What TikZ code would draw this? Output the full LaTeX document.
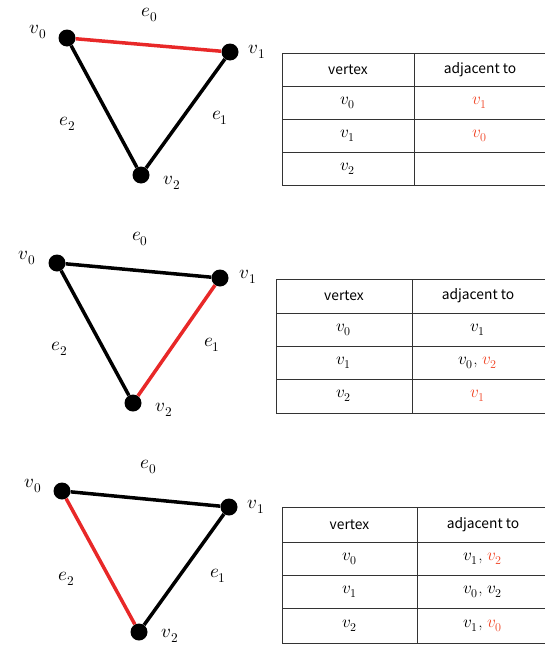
\documentclass[tikz,border=0pt]{standalone}
\usepackage{fontspec}
\usepackage{unicode-math}
\setmathfont{Latin Modern Math}
\setsansfont{Noto Sans CJK JP}
\usetikzlibrary{positioning}
\definecolor{edgered}{RGB}{232,40,40}
\definecolor{textred}{RGB}{240,75,45}

\begin{document}
\begin{tikzpicture}[
    x=1pt, y=-1pt,
    vert/.style={circle, fill=black, inner sep=0pt, minimum size=17pt},
    edge/.style={line width=3.5pt, draw=black},
    hot/.style={edge, draw=edgered},
    vlab/.style={font=\fontsize{19}{19}\selectfont},
    cell/.style={font=\fontsize{17}{17}\selectfont},
    head/.style={font=\sffamily\fontsize{13.8}{13.8}\selectfont},
    grid/.style={line width=1pt, draw=black!80}
]
\useasboundingbox (0,0) rectangle (545,645);

% first graph: e0 highlighted
\node[vert] (a0) at (67,38) {};
\node[vert] (a1) at (230,52) {};
\node[vert] (a2) at (141,175) {};
\draw[hot] (a0) -- (a1);
\draw[edge] (a1) -- (a2);
\draw[edge] (a2) -- (a0);
\node[vlab] (a0l) at (38,32) {$v_0$};
\node[vlab] (a1l) at (257,52) {$v_1$};
\node[vlab] (a2l) at (172,183) {$v_2$};
\node[vlab] (ae0) at (150,15) {$e_0$};
\node[vlab] (ae1) at (220,118) {$e_1$};
\node[vlab] (ae2) at (68,124) {$e_2$};

\foreach \y in {53,86,119,152,185} \draw[grid] (282,\y) -- (545,\y);
\foreach \x in {282,414} \draw[grid] (\x,53) -- (\x,185);
\node[head] (ah1) at (348,69.5) {vertex};
\node[head] (ah2) at (480,69.5) {adjacent to};
\node[cell] (ar0) at (348,102.5) {$v_0$};
\node[cell] (ar1) at (348,135.5) {$v_1$};
\node[cell] (ar2) at (348,168.5) {$v_2$};
\node[cell, text=textred] (aj0) at (480,102.5) {$v_1$};
\node[cell, text=textred] (aj1) at (480,135.5) {$v_0$};

% second graph: e1 highlighted
\node[vert] (b0) at (57,263) {};
\node[vert] (b1) at (220,278) {};
\node[vert] (b2) at (133,403) {};
\draw[edge] (b0) -- (b1);
\draw[hot] (b1) -- (b2);
\draw[edge] (b2) -- (b0);
\node[vlab] (b0l) at (27,258) {$v_0$};
\node[vlab] (b1l) at (248,277) {$v_1$};
\node[vlab] (b2l) at (164,410) {$v_2$};
\node[vlab] (be0) at (140,239) {$e_0$};
\node[vlab] (be1) at (212,345) {$e_1$};
\node[vlab] (be2) at (60,349) {$e_2$};

\foreach \y in {279,313,346,379,413} \draw[grid] (276,\y) -- (545,\y);
\foreach \x in {276,412} \draw[grid] (\x,279) -- (\x,413);
\node[head] (bh1) at (344,296) {vertex};
\node[head] (bh2) at (478,296) {adjacent to};
\node[cell] (br0) at (344,329.5) {$v_0$};
\node[cell] (br1) at (344,362.5) {$v_1$};
\node[cell] (br2) at (344,396) {$v_2$};
\node[cell] (bj0) at (478,329.5) {$v_1$};
\node[cell] (bj1) at (478,362.5) {$v_0$, \textcolor{textred}{$v_2$}};
\node[cell, text=textred] (bj2) at (478,396) {$v_1$};

% third graph: e2 highlighted
\node[vert] (c0) at (62,491) {};
\node[vert] (c1) at (229,507) {};
\node[vert] (c2) at (139,632) {};
\draw[edge] (c0) -- (c1);
\draw[edge] (c1) -- (c2);
\draw[hot] (c2) -- (c0);
\node[vlab] (c0l) at (33,486) {$v_0$};
\node[vlab] (c1l) at (256,507) {$v_1$};
\node[vlab] (c2l) at (170,636) {$v_2$};
\node[vlab] (ce0) at (149,467) {$e_0$};
\node[vlab] (ce1) at (218,576) {$e_1$};
\node[vlab] (ce2) at (67,579) {$e_2$};

\foreach \y in {507,542,575,608,643} \draw[grid] (282,\y) -- (545,\y);
\foreach \x in {282,417} \draw[grid] (\x,507) -- (\x,643);
\node[head] (ch1) at (349.5,524.5) {vertex};
\node[head] (ch2) at (483,524.5) {adjacent to};
\node[cell] (cr0) at (349.5,558.5) {$v_0$};
\node[cell] (cr1) at (349.5,591.5) {$v_1$};
\node[cell] (cr2) at (349.5,625.5) {$v_2$};
\node[cell] (cj0) at (483,558.5) {$v_1$, \textcolor{textred}{$v_2$}};
\node[cell] (cj1) at (483,591.5) {$v_0$, $v_2$};
\node[cell] (cj2) at (483,625.5) {$v_1$, \textcolor{textred}{$v_0$}};
\end{tikzpicture}
\end{document}
